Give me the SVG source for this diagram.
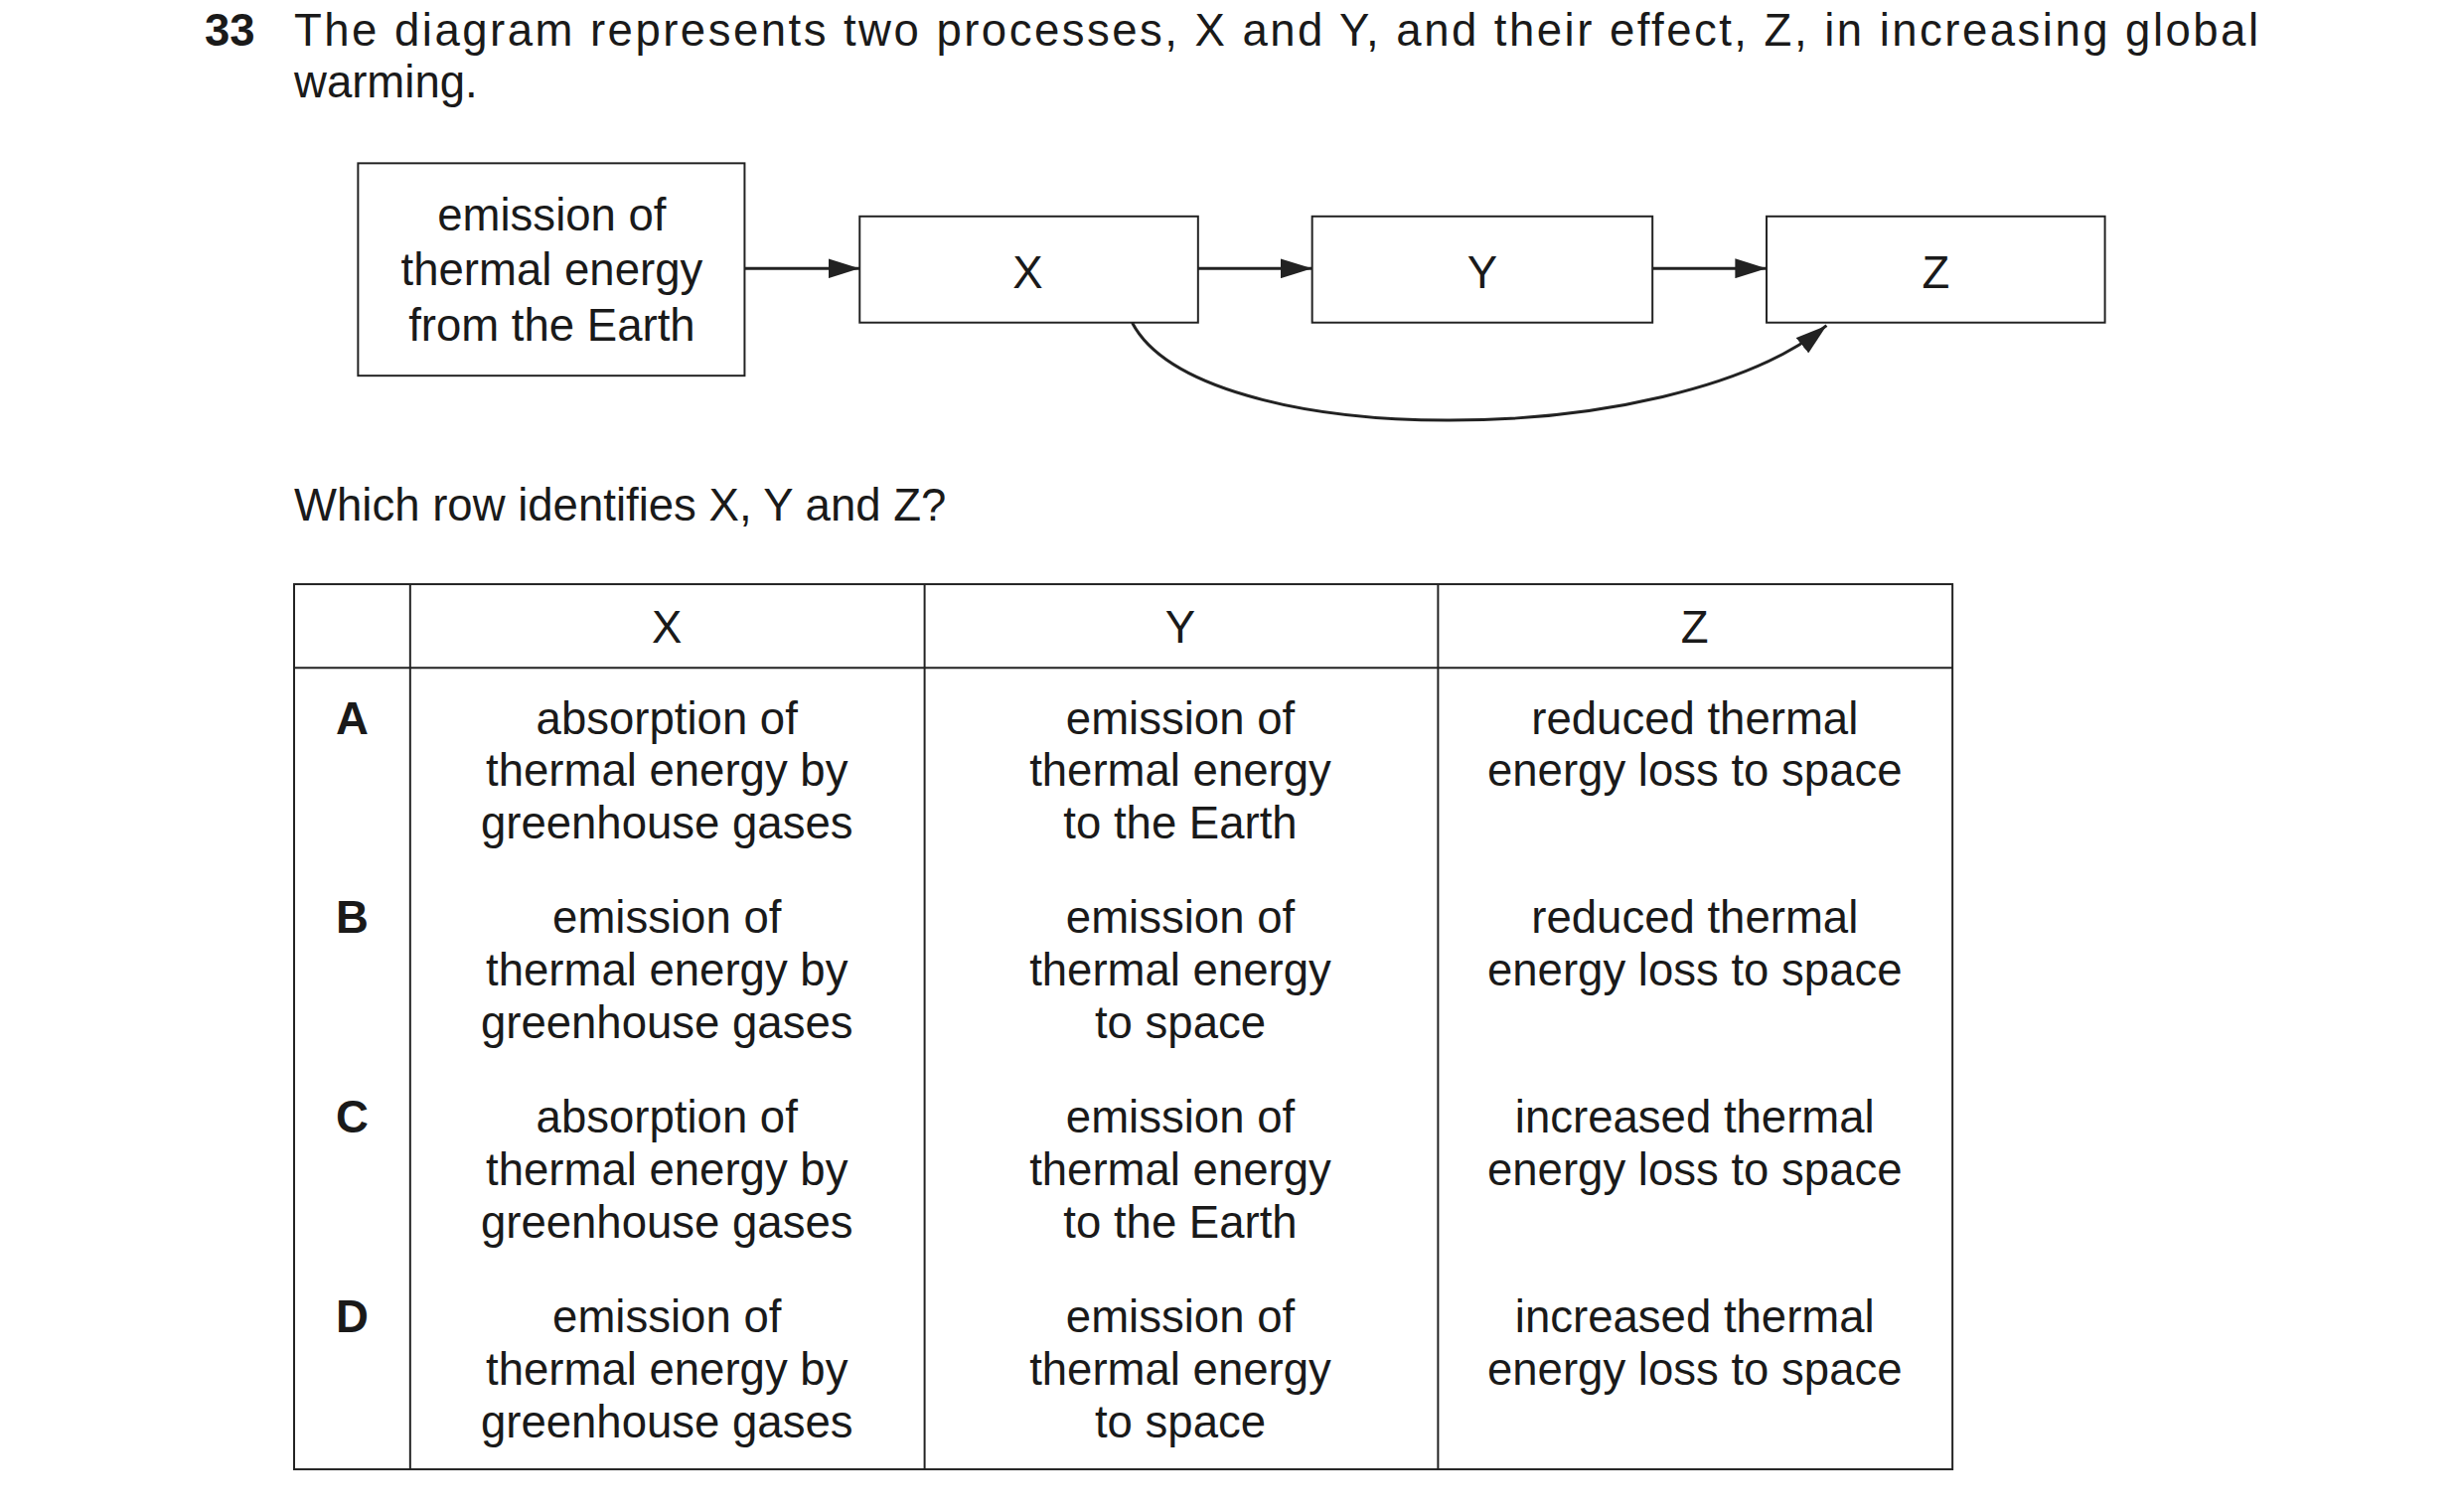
<svg xmlns="http://www.w3.org/2000/svg" width="2480" height="1518" viewBox="0 0 2480 1518">
<style>
text{font-family:"Liberation Sans",Arial,sans-serif;font-size:46px;fill:#1a1a1a}
.c{text-anchor:middle}
.b{font-weight:bold}
.box{fill:none;stroke:#222;stroke-width:2}
.ln{fill:none;stroke:#222;stroke-width:3}
.tb{stroke:#222;stroke-width:2;fill:none}
</style>
<defs>
<marker id="ah2" markerWidth="32" markerHeight="20" refX="32" refY="10" orient="auto" markerUnits="userSpaceOnUse"><path d="M0,0L32,10L0,20z" fill="#222"/></marker></defs>
<g transform="scale(0.99)">
<text x="208" y="46" class="b">33</text>
<text x="299" y="46" textLength="1997" lengthAdjust="spacing">The diagram represents two processes, X and Y, and their effect, Z, in increasing global</text>
<text x="299" y="99">warming.</text>
<g id="source"><rect class="box" x="364" y="166" width="393" height="216"/>
<text class="c" x="561" y="234">emission of</text><text class="c" x="561" y="290">thermal energy</text><text class="c" x="561" y="346">from the Earth</text></g>
<g id="X"><rect class="box" x="874" y="220" width="344" height="108"/><text class="c" x="1045" y="293">X</text></g>
<g id="Y"><rect class="box" x="1334" y="220" width="346" height="108"/><text class="c" x="1507" y="293">Y</text></g>
<g id="Z"><rect class="box" x="1796" y="220" width="344" height="108"/><text class="c" x="1968" y="293">Z</text></g>
<g id="connectors">
<line class="ln" x1="757" y1="273" x2="874" y2="273" marker-end="url(#ah2)"/>
<line class="ln" x1="1218" y1="273" x2="1334" y2="273" marker-end="url(#ah2)"/>
<line class="ln" x1="1680" y1="273" x2="1796" y2="273" marker-end="url(#ah2)"/>
<path class="ln" d="M1151,328 C1220,460 1700,460 1857,331" marker-end="url(#ah2)"/>
</g>
<text x="299" y="529">Which row identifies X, Y and Z?</text>
<g id="table">
<rect class="tb" x="299" y="594" width="1686" height="900"/>
<line class="tb" x1="299" y1="679" x2="1985" y2="679"/>
<line class="tb" x1="417" y1="594" x2="417" y2="1494"/>
<line class="tb" x1="940" y1="594" x2="940" y2="1494"/>
<line class="tb" x1="1462" y1="594" x2="1462" y2="1494"/>
<text class="c" x="678" y="654">X</text><text class="c" x="1200" y="654">Y</text><text class="c" x="1723" y="654">Z</text>
<text class="c b" x="358" y="746">A</text>
<text class="c" x="678" y="746">absorption of</text><text class="c" x="678" y="799">thermal energy by</text><text class="c" x="678" y="853">greenhouse gases</text>
<text class="c" x="1200" y="746">emission of</text><text class="c" x="1200" y="799">thermal energy</text><text class="c" x="1200" y="853">to the Earth</text>
<text class="c" x="1723" y="746">reduced thermal</text><text class="c" x="1723" y="799">energy loss to space</text>
<text class="c b" x="358" y="949">B</text>
<text class="c" x="678" y="949">emission of</text><text class="c" x="678" y="1002">thermal energy by</text><text class="c" x="678" y="1056">greenhouse gases</text>
<text class="c" x="1200" y="949">emission of</text><text class="c" x="1200" y="1002">thermal energy</text><text class="c" x="1200" y="1056">to space</text>
<text class="c" x="1723" y="949">reduced thermal</text><text class="c" x="1723" y="1002">energy loss to space</text>
<text class="c b" x="358" y="1152">C</text>
<text class="c" x="678" y="1152">absorption of</text><text class="c" x="678" y="1205">thermal energy by</text><text class="c" x="678" y="1259">greenhouse gases</text>
<text class="c" x="1200" y="1152">emission of</text><text class="c" x="1200" y="1205">thermal energy</text><text class="c" x="1200" y="1259">to the Earth</text>
<text class="c" x="1723" y="1152">increased thermal</text><text class="c" x="1723" y="1205">energy loss to space</text>
<text class="c b" x="358" y="1355">D</text>
<text class="c" x="678" y="1355">emission of</text><text class="c" x="678" y="1408">thermal energy by</text><text class="c" x="678" y="1462">greenhouse gases</text>
<text class="c" x="1200" y="1355">emission of</text><text class="c" x="1200" y="1408">thermal energy</text><text class="c" x="1200" y="1462">to space</text>
<text class="c" x="1723" y="1355">increased thermal</text><text class="c" x="1723" y="1408">energy loss to space</text>
</g>
</g>
</svg>
